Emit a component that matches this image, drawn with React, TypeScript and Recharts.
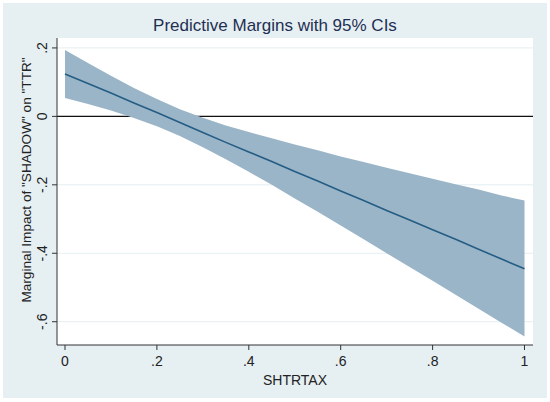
import {
  ComposedChart,
  Area,
  Line,
  XAxis,
  YAxis,
  CartesianGrid,
} from "recharts";

// values
const shtrtax = [0, 0.05, 0.1, 0.15, 0.2, 0.25, 0.3, 0.35, 0.4, 0.45, 0.5, 0.55, 0.6, 0.65, 0.7, 0.75, 0.8, 0.85, 0.9, 0.95, 1];
const margin = [0.124, 0.096, 0.068, 0.039, 0.011, -0.018, -0.047, -0.076, -0.104, -0.132, -0.161, -0.189, -0.218, -0.246, -0.275, -0.303, -0.331, -0.359, -0.388, -0.417, -0.445];
const upper = [0.194, 0.156, 0.119, 0.083, 0.051, 0.021, -0.004, -0.027, -0.046, -0.064, -0.082, -0.099, -0.117, -0.133, -0.15, -0.166, -0.182, -0.198, -0.214, -0.231, -0.246];
const lower = [0.054, 0.036, 0.017, -0.005, -0.029, -0.057, -0.09, -0.125, -0.162, -0.2, -0.24, -0.279, -0.319, -0.359, -0.4, -0.44, -0.48, -0.521, -0.562, -0.603, -0.643];

const xTicks = [0, 0.2, 0.4, 0.6, 0.8, 1];
const yTicks = [-0.6, -0.4, -0.2, 0, 0.2];
const zeroLine = [0];

const title = "Predictive Margins with 95% CIs";
const xTitle = "SHTRTAX";
const yTitle = 'Marginal Impact of "SHADOW" on "TTR"';

const data = shtrtax.map((x, i) => ({
  x,
  m: margin[i],
  ci: [lower[i], upper[i]],
}));

const fmt = (v: number) => {
  if (v === 0) return "0";
  if (v === 1) return "1";
  return v.toFixed(1).replace("0.", ".");
};

const FONT = "'Liberation Sans', Arial, sans-serif";
const TEXT = "#222";

const YTick = ({ y, payload }: any) => (
  <text
    x={47}
    y={y}
    transform={`rotate(-90, 47, ${y})`}
    textAnchor="middle"
    fontSize={14}
    fontFamily={FONT}
    fill={TEXT}
  >
    {fmt(payload.value)}
  </text>
);

const XTick = ({ x, y, payload }: any) => (
  <text
    x={x}
    y={y + 14}
    textAnchor="middle"
    fontSize={14}
    fontFamily={FONT}
    fill={TEXT}
  >
    {fmt(payload.value)}
  </text>
);

export default function App() {
  return (
    <div
      style={{
        position: "absolute",
        left: 0,
        top: 0,
        width: 550,
        height: 402,
        background: "#fff",
      }}
    >
      <div
        style={{
          position: "absolute",
          left: 3,
          top: 3,
          width: 544,
          height: 395,
          background: "#E6EFF2",
        }}
      />
      <div style={{ position: "absolute", left: 0, top: 0 }}>
        <ComposedChart
          width={550}
          height={402}
          data={data}
          margin={{ top: 38, right: 17, bottom: 27, left: 0 }}
        >
          <CartesianGrid
            vertical={false}
            horizontalValues={yTicks}
            stroke="#E4EEF1"
            strokeWidth={1}
            fill="#ffffff"
            fillOpacity={1}
          />
          {/* zero line sits under the band, as in Stata */}
          <CartesianGrid
            vertical={false}
            horizontalValues={zeroLine}
            stroke="#111"
            strokeWidth={1.2}
          />
          <XAxis
            dataKey="x"
            type="number"
            domain={[-0.0174, 1.0185]}
            ticks={xTicks}
            allowDataOverflow
            height={30}
            tick={<XTick />}
            tickSize={5}
            stroke="#333"
            tickLine={{ stroke: "#333" }}
          />
          <YAxis
            type="number"
            domain={[-0.668, 0.229]}
            ticks={yTicks}
            allowDataOverflow
            width={57}
            tick={<YTick />}
            tickSize={5}
            stroke="#333"
            tickLine={{ stroke: "#333" }}
          />
          <Area
            dataKey="ci"
            type="linear"
            stroke="none"
            fill="#9BB5C8"
            fillOpacity={1}
            isAnimationActive={false}
            activeDot={false}
          />
          <Line
            dataKey="m"
            type="linear"
            stroke="#245D84"
            strokeWidth={1.6}
            dot={false}
            activeDot={false}
            isAnimationActive={false}
          />
        </ComposedChart>
      </div>
      <svg
        width={550}
        height={402}
        style={{ position: "absolute", left: 0, top: 0, pointerEvents: "none" }}
      >
        <text
          x={275}
          y={31}
          textAnchor="middle"
          fontSize={17}
          fontFamily={FONT}
          fill="#1E2F52"
        >
          {title}
        </text>
        <text
          x={295}
          y={385}
          textAnchor="middle"
          fontSize={14}
          fontFamily={FONT}
          fill={TEXT}
        >
          {xTitle}
        </text>
        <text
          x={31}
          y={180}
          transform="rotate(-90, 31, 180)"
          textAnchor="middle"
          fontSize={13.6}
          fontFamily={FONT}
          fill={TEXT}
        >
          {yTitle}
        </text>
      </svg>
    </div>
  );
}
